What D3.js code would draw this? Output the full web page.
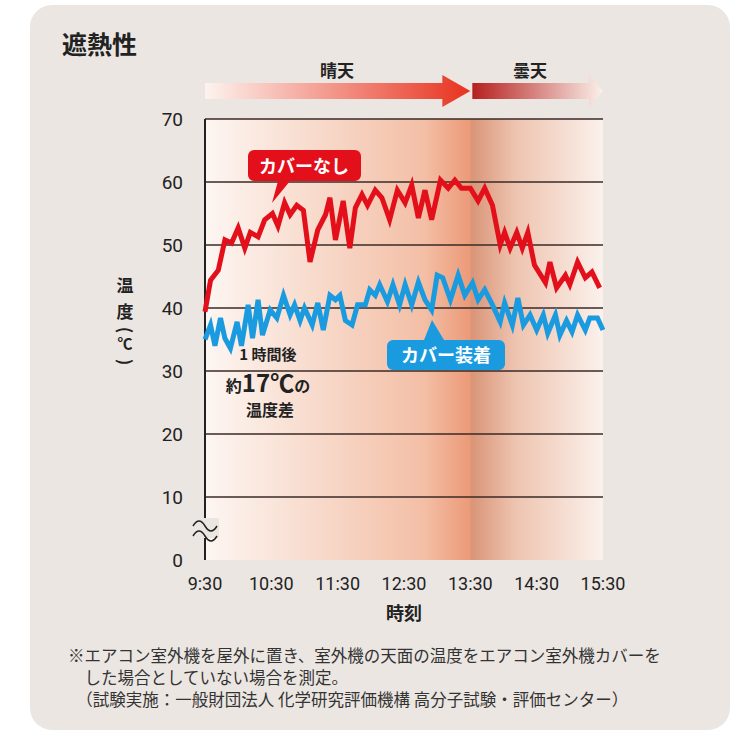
<!DOCTYPE html><html><head><meta charset="utf-8">
<script src="https://cdn.jsdelivr.net/npm/d3@7"></script>
<style>body{margin:0;background:#fff;font-family:"Noto Sans CJK JP","Noto Sans",sans-serif}</style></head><body>
<svg id="c" width="750" height="740"></svg>
<script>
const yTicks=[0,10,20,30,40,50,60,70];
const xTickLabels=["9:30","10:30","11:30","12:30","13:30","14:30","15:30"];
const redMinutes=[0,5,12,18,24,30,36,41,48,54,61,66,72,77,83,89,95,102,109,113,118,125,131,136,142,147,154,160,167,174,181,187,193,199,205,213,220,226,232,240,247,253,260,267,271,276,282,287,292,298,308,312,318,326,330,337,344,350,357];
const redValues=[39.4,44.4,46,50.8,50.3,52.7,49.5,52,51.3,54,55,53,56.7,54.8,56.3,55.5,47.3,52.4,54.8,57.5,50.8,57,49.5,55.9,58,56.3,58.7,57.5,54,58.7,56.7,59.5,54.3,58.7,54,60.3,59,60.3,59,59,57,59,56.3,50,52,49.5,52,49.5,52,46.8,44,47.3,43.2,45.2,43.7,47.3,44.8,45.7,43.2];
const blueMinutes=[0,5,9,14,18,23,29,33,39,43,48,52,59,65,71,77,81,86,90,97,102,107,113,118,122,127,133,138,145,149,154,158,165,170,176,181,187,193,199,205,210,215,222,229,235,242,247,253,260,267,271,278,283,288,294,300,306,310,317,321,327,332,337,344,348,355,360];
const blueValues=[35,37.3,34,38.4,35.2,33.6,37.8,34,40.5,35.2,41.3,35.7,39.7,38.4,42,38.9,40.5,38,40,37.3,40.8,36.5,42,41.3,42,38,37.3,40.5,40.5,42.9,42,43.7,41,43.7,40.5,43.7,40.5,44.1,41.3,39.7,45.2,44.8,41.3,45.2,42,44,41.3,42.9,40.5,37.8,40.8,37.3,41.6,37.3,38.9,36.5,38.9,36,38.9,35.7,38,36.2,38.9,36.5,38.4,38.4,36.5];
const footnote=["※エアコン室外機を屋外に置き、室外機の天面の温度をエアコン室外機カバーを","　した場合としていない場合を測定。","　（試験実施：一般財団法人 化学研究評価機構 高分子試験・評価センター）"];

const svg=d3.select("#c");
const defs=svg.append("defs");
svg.append("rect").attr("x",30).attr("y",5).attr("width",700).attr("height",725).attr("rx",22).attr("fill","#ebe6e2");
svg.append("text").attr("x",62).attr("y",54).attr("font-size",25).attr("font-weight",700).attr("fill","#222").text("遮熱性");

const L=205,R=603,T=119,B=560;
const x=d3.scaleLinear().domain([0,360]).range([L,R]);
const y=d3.scaleLinear().domain([0,70]).range([B,T]);

const g1=defs.append("linearGradient").attr("id","bg").attr("x1",0).attr("x2",1);
[[0,"#fdf6f2"],[0.55,"#f3bfa6"],[0.665,"#ec9a78"],[0.67,"#d99578"],[0.78,"#eec4b0"],[1,"#fbf1ec"]].forEach(s=>g1.append("stop").attr("offset",s[0]).attr("stop-color",s[1]));
svg.append("rect").attr("x",L).attr("y",T).attr("width",R-L).attr("height",B-T).attr("fill","url(#bg)");

yTicks.forEach(t=>{
  if(t>0) svg.append("line").attr("x1",L).attr("x2",R).attr("y1",y(t)).attr("y2",y(t)).attr("stroke","#3a2a26").attr("stroke-width",1.5);
  svg.append("text").attr("x",183).attr("y",y(t)+7).attr("text-anchor","end").attr("font-size",19).attr("fill","#222").attr("font-family","Roboto,sans-serif").text(t);
});
svg.append("line").attr("x1",L).attr("x2",L).attr("y1",T).attr("y2",B).attr("stroke","#222").attr("stroke-width",2);
svg.append("rect").attr("x",L-14).attr("y",518).attr("width",28).attr("height",20).attr("fill","#ebe6e2");
[522,532].forEach(yy=>svg.append("path").attr("d",`M${L-12},${yy+4} q6,-10 12,0 t12,0`).attr("fill","none").attr("stroke","#222").attr("stroke-width",1.5));

xTickLabels.forEach((l,i)=>svg.append("text").attr("x",x(i*60)).attr("y",590).attr("text-anchor","middle").attr("font-size",18).attr("fill","#222").attr("font-family","Roboto,sans-serif").text(l));
svg.append("text").attr("x",404).attr("y",620).attr("text-anchor","middle").attr("font-size",18).attr("font-weight",700).attr("fill","#222").text("時刻");
["温","度"].forEach((c,i)=>svg.append("text").attr("x",125).attr("y",292+i*26).attr("text-anchor","middle").attr("font-size",17).attr("font-weight",700).attr("fill","#222").text(c));
svg.append("text").attr("transform","translate(125,330) rotate(90)").attr("text-anchor","middle").attr("dy","0.35em").attr("font-size",17).attr("font-weight",700).attr("fill","#222").text("(");
svg.append("text").attr("x",125).attr("y",349).attr("text-anchor","middle").attr("font-size",15).attr("font-weight",700).attr("fill","#222").text("℃");
svg.append("text").attr("transform","translate(125,362) rotate(90)").attr("text-anchor","middle").attr("dy","0.35em").attr("font-size",17).attr("font-weight",700).attr("fill","#222").text(")");

const g2=defs.append("linearGradient").attr("id","a1").attr("x1",0).attr("x2",1);
[[0,"#fdf3ee"],[1,"#e8321e"]].forEach(s=>g2.append("stop").attr("offset",s[0]).attr("stop-color",s[1]));
const g3=defs.append("linearGradient").attr("id","a2").attr("x1",0).attr("x2",1);
[[0,"#b5201e"],[1,"#fbf0ea"]].forEach(s=>g3.append("stop").attr("offset",s[0]).attr("stop-color",s[1]));
const ay=91;
svg.append("path").attr("d",`M${L},${ay-8}H${x(240)-28}V${ay-16}L${x(240)},${ay}L${x(240)-28},${ay+16}V${ay+8}H${L}Z`).attr("fill","url(#a1)");
svg.append("path").attr("d",`M${x(240)+2},${ay-8}H${R-14}V${ay-16}L${R},${ay}L${R-14},${ay+16}V${ay+8}H${x(240)+2}Z`).attr("fill","url(#a2)");
svg.append("text").attr("x",337).attr("y",77).attr("text-anchor","middle").attr("font-size",17).attr("font-weight",700).attr("fill","#222").text("晴天");
svg.append("text").attr("x",530).attr("y",77).attr("text-anchor","middle").attr("font-size",17).attr("font-weight",700).attr("fill","#222").text("曇天");

const line=d3.line().x(d=>x(d[0])).y(d=>y(d[1]));
svg.append("path").datum(blueMinutes.map((m,i)=>[m,blueValues[i]])).attr("d",line).attr("fill","none").attr("stroke","#1a9be0").attr("stroke-width",5).attr("stroke-linejoin","miter");
svg.append("path").datum(redMinutes.map((m,i)=>[m,redValues[i]])).attr("d",line).attr("fill","none").attr("stroke","#e3101c").attr("stroke-width",5).attr("stroke-linejoin","miter");

svg.append("path").attr("d","M254,150H355a6,6 0 0 1 6,6V175a6,6 0 0 1 -6,6H290L272,203L278,181H254a6,6 0 0 1 -6,-6V156a6,6 0 0 1 6,-6Z").attr("fill","#e3101c");
svg.append("text").attr("x",304).attr("y",173).attr("text-anchor","middle").attr("font-size",18).attr("font-weight",700).attr("fill","#fff").text("カバーなし");
svg.append("path").attr("d","M393,340H424L432,320L444,340H499a6,6 0 0 1 6,6V364a6,6 0 0 1 -6,6H393a6,6 0 0 1 -6,-6V346a6,6 0 0 1 6,-6Z").attr("fill","#1a9be0");
svg.append("text").attr("x",446).attr("y",362).attr("text-anchor","middle").attr("font-size",18).attr("font-weight",700).attr("fill","#fff").text("カバー装着");

svg.append("text").attr("x",268).attr("y",360).attr("text-anchor","middle").attr("font-size",15).attr("font-weight",700).attr("fill","#222").text("1 時間後");
const t2=svg.append("text").attr("x",268).attr("y",392).attr("text-anchor","middle").attr("font-weight",700).attr("fill","#222");
t2.append("tspan").attr("font-size",16).text("約");
t2.append("tspan").attr("font-size",24).text("17℃");
t2.append("tspan").attr("font-size",16).text("の");
svg.append("text").attr("x",270).attr("y",416).attr("text-anchor","middle").attr("font-size",16).attr("font-weight",700).attr("fill","#222").text("温度差");

footnote.forEach((l,i)=>svg.append("text").attr("x",68).attr("y",662+i*22).attr("font-size",16.5).attr("fill","#333").text(l));
</script></body></html>
